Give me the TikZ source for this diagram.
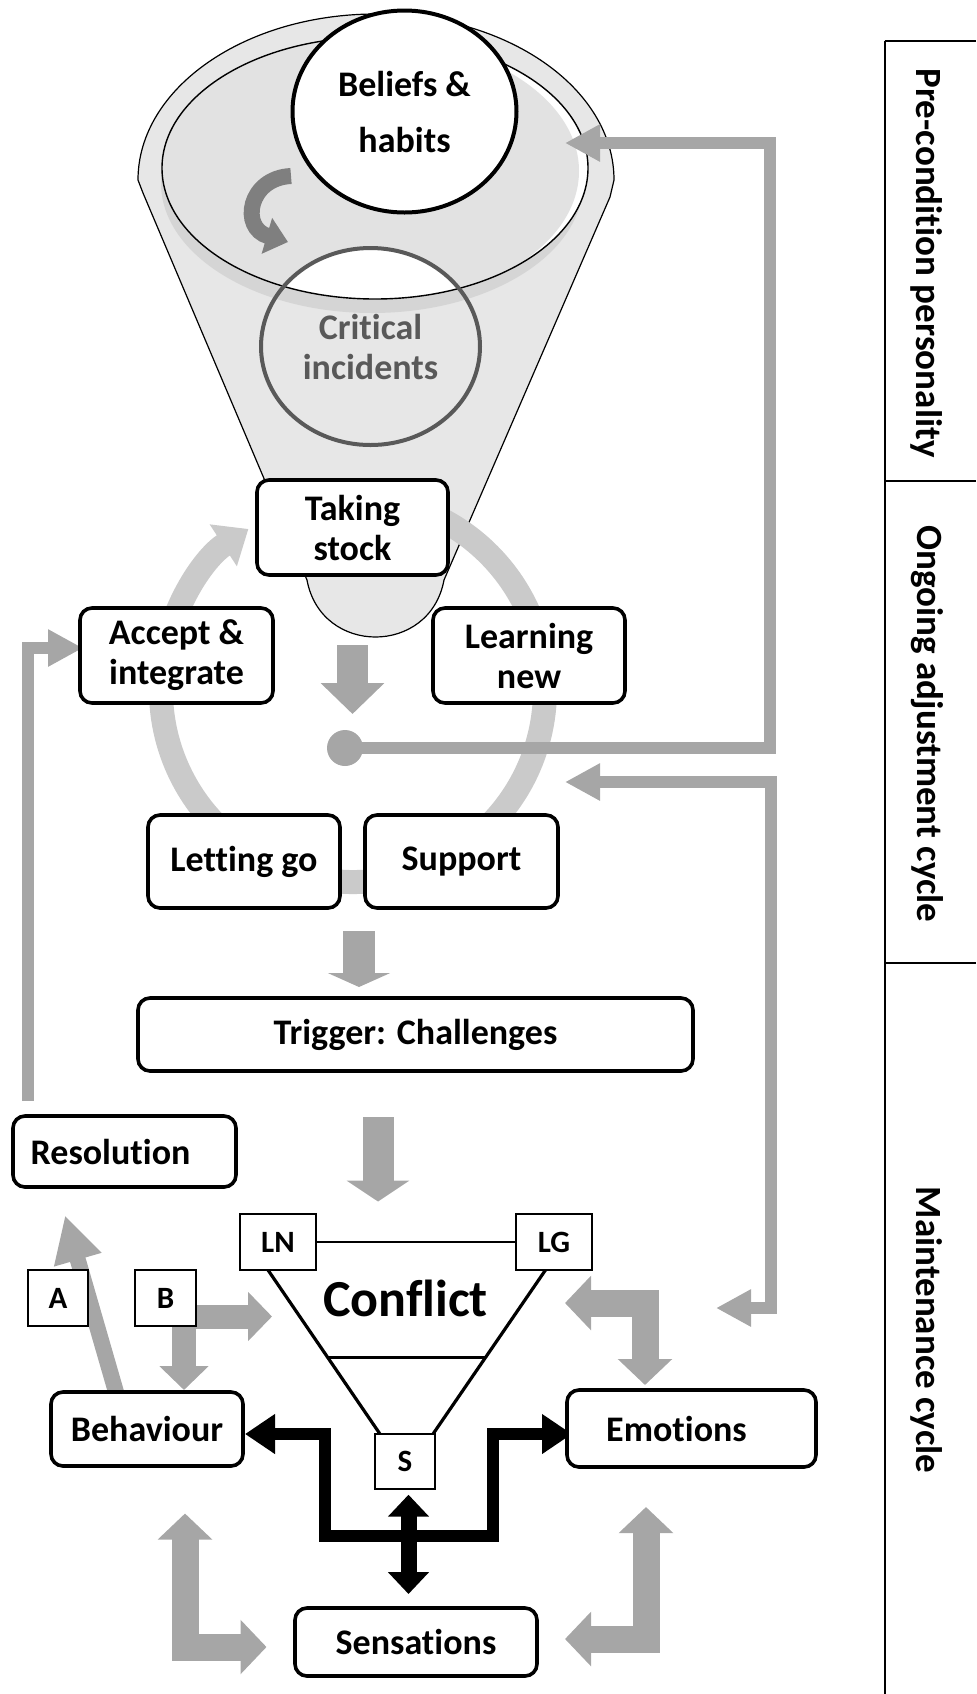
\documentclass[tikz,border=0pt]{standalone}
\usepackage{fontspec}
\setmainfont{Carlito}[Ligatures=NoCommon]
\usetikzlibrary{arrows.meta,shapes.geometric}
\definecolor{funnelgrey}{HTML}{E7E7E7}
\definecolor{shadowgrey}{HTML}{D5D5D5}
\definecolor{innergrey}{HTML}{E2E2E2}
\definecolor{ringgrey}{HTML}{CACACA}
\definecolor{conngrey}{HTML}{A6A6A6}
\definecolor{darkgrey}{HTML}{595959}
\definecolor{curlgrey}{HTML}{7F7F7F}
\begin{document}
\begin{tikzpicture}[x=0.5pt,y=-0.5pt,
  every node/.style={font=\fontsize{18}{20}\selectfont\bfseries},
  rbox/.style={draw=black, line width=1.8pt, rounded corners=6pt, fill=white, align=center, inner sep=0pt},
  sbox/.style={draw=black, line width=1pt, fill=white, inner sep=0pt, font=\fontsize{15.5}{16}\selectfont\bfseries},
  gconn/.style={draw=conngrey, line width=6pt, line join=miter},
  gtip/.tip={Triangle[width=17.5pt,length=17.5pt]},
  btip/.tip={Triangle[width=26.5pt,length=13pt]},
  ktip/.tip={Triangle[width=19pt,length=15pt]},
  sidelabel/.style={rotate=-90, font=\fontsize{18.5}{20}\selectfont\bfseries}
]
\useasboundingbox (0,0) rectangle (976,1694);

% ---------- funnel ----------
\filldraw[fill=funnelgrey, draw=black, line width=0.6pt]
  (307,580) -- (143,193) -- (138,180)
  arc[start angle=180, end angle=360, x radius=238, y radius=166]
  -- (610,197) -- (444,580) .. controls (430,656) and (321,656) .. (307,580) -- cycle;
\fill[shadowgrey] (372,183) ellipse[x radius=211, y radius=130];
\begin{scope}
  \clip (375,168) ellipse[x radius=213, y radius=131];
  \fill[white] (375,168) ellipse[x radius=213, y radius=131];
  \fill[innergrey] (368,171) ellipse[x radius=211, y radius=133];
  \fill[white] (370.5,346.5) ellipse[x radius=109.5, y radius=98.5];
\end{scope}
\draw[line width=0.7pt] (375,168) ellipse[x radius=213, y radius=131];

\node[ellipse, draw=darkgrey, line width=2pt, minimum width=109.5pt, minimum height=98.5pt,
  inner sep=0pt, align=center, text=darkgrey] (crit) at (370.5,346.5) {Critical\\incidents};
\node[ellipse, draw=black, line width=2pt, fill=white, minimum width=112pt, minimum height=101pt,
  inner sep=0pt, align=center] (beliefs) at (404.5,111.5) {Beliefs \&\\[8pt]habits};

\draw[curlgrey, line width=8pt, -{Triangle[width=18pt,length=11pt]}]
  (291,176) .. controls (248,178) and (240,228) .. (288,242);

% ---------- cycle ring ----------
\coordinate (ringc) at (353,690);
\draw[ringgrey, line width=12pt, -{Triangle[width=24pt,length=15pt]}]
  (ringc) ++(-80:192) arc[start angle=-80, end angle=237, radius=192];

% ---------- coordinates for connectors ----------
\coordinate (beliefin) at (565,143);
\coordinate (adjin) at (565,782);
\coordinate (conflin) at (716,1308);
\coordinate (resout) at (27.5,1101);
\coordinate (accin) at (83,648);

% ---------- grey connectors ----------
\node[circle, fill=conngrey, minimum size=18pt, inner sep=0pt] (dot) at (345,748) {};
\draw[gconn, -gtip] (dot.center) -- (770,748) -- (770,143) -- (beliefin);
\draw[gconn, gtip-gtip] (adjin) -- (771,782) -- (771,1308) -- (conflin);
\draw[gconn, -gtip] (resout) -- (27.5,648) -- (accin);

% block arrows down
\coordinate (f1) at (352.5,645); \coordinate (f2) at (352.5,714);
\coordinate (r1) at (359,931);   \coordinate (r2) at (359,987);
\coordinate (t1) at (378,1117);  \coordinate (t2) at (378,1201.5);
\draw[conngrey, line width=15.5pt, -{Triangle[width=31pt,length=15.5pt]}] (f1) -- (f2);
\draw[conngrey, line width=16pt, -{Triangle[width=31pt,length=7pt]}] (r1) -- (r2);
\draw[conngrey, line width=15.5pt, -{Triangle[width=31pt,length=10.5pt]}] (t1) -- (t2);

% A arrow
\coordinate (a1) at (116,1392); \coordinate (a2) at (65,1215.5);
\draw[conngrey, line width=8pt, -{Triangle[width=23pt,length=23pt]}] (a1) -- (a2);
% B elbow
\coordinate (b1) at (272,1316.5); \coordinate (b2) at (184,1390);
\draw[conngrey, line width=12pt, line join=miter, {Triangle[width=24pt,length=12pt]}-{Triangle[width=24pt,length=12pt]}]
  (b1) -- (184,1316.5) -- (b2);
% elbows
\coordinate (e1) at (565,1303); \coordinate (e2) at (645,1385);
\draw[conngrey, line width=13.5pt, line join=miter, btip-btip] (e1) -- (645,1303) -- (e2);
\coordinate (s1) at (185,1513.5); \coordinate (s2) at (266.5,1647);
\draw[conngrey, line width=13.5pt, line join=miter, btip-btip] (s1) -- (185,1647) -- (s2);
\coordinate (m1) at (646,1507); \coordinate (m2) at (565,1639);
\draw[conngrey, line width=13.5pt, line join=miter, btip-btip] (m1) -- (646,1639) -- (m2);

% black arrows
\coordinate (k1) at (245,1434); \coordinate (k2) at (572,1434);
\draw[black, line width=6pt, line join=miter, ktip-ktip]
  (k1) -- (325,1434) -- (325,1536) -- (493,1536) -- (493,1434) -- (k2);
\coordinate (v1) at (408.5,1494.7); \coordinate (v2) at (408.5,1594);
\draw[black, line width=8pt, {Triangle[width=20pt,length=11pt]}-{Triangle[width=20pt,length=11pt]}] (v1) -- (v2);

% ---------- boxes ----------
\node[rbox, minimum width=95.5pt, minimum height=47.5pt] (stock) at (352.5,527.5) {Taking\\stock};
\node[rbox, minimum width=96pt, minimum height=47.5pt] (learn) at (529,655.5) {Learning\\new};
\node[rbox, minimum width=96.5pt, minimum height=47.5pt] (accept) at (176.5,655.5) {Accept \&\\integrate};
\node[rbox, minimum width=96pt, minimum height=46.5pt] (letgo) at (244,861.5) {Letting go};
\node[rbox, minimum width=96.5pt, minimum height=46.5pt] (support) at (461.5,861.5) {Support};
\node[rbox, minimum width=277.5pt, minimum height=36.5pt] (trigger) at (415.5,1034.5) {Trigger: Challenges};
\node[rbox, minimum width=111.5pt, minimum height=35.5pt] (resol) at (124.5,1151.5) {Resolution\hspace*{14pt}};
\node[rbox, minimum width=96pt, minimum height=37pt] (behav) at (147,1429) {Behaviour};
\node[rbox, minimum width=124.5pt, minimum height=38.5pt] (emo) at (691.5,1428.5) {Emotions\hspace*{15pt}};
\node[rbox, minimum width=121pt, minimum height=34pt] (sens) at (416,1642) {Sensations};

% ---------- conflict ----------
\node[sbox, minimum width=30pt, minimum height=28pt] (A) at (58,1298) {A};
\node[sbox, minimum width=30.5pt, minimum height=28pt] (B) at (165.5,1298) {B};
\node[sbox, minimum width=38pt, minimum height=28pt] (LN) at (278,1242) {LN};
\node[sbox, minimum width=38pt, minimum height=28pt] (LG) at (554,1242) {LG};
\node[sbox, minimum width=30pt, minimum height=27.5pt] (S) at (405,1461.5) {S};
\draw[line width=1pt] (LN) -- (LG);
\draw[line width=1.6pt] (268,1270) -- (380,1434);
\draw[line width=1.6pt] (545.5,1270) -- (433,1434);
\draw[line width=1.6pt] (327.5,1357.6) -- (485,1357.6);
\node[font=\fontsize{26}{28}\selectfont\bfseries] (conflict) at (405.5,1298) {Conflict};

% ---------- side panel ----------
\draw[line width=1pt] (884.5,41) -- (884.5,1694);
\draw[line width=1pt] (884.5,41) -- (976,41);
\draw[line width=1pt] (884.5,481) -- (976,481);
\draw[line width=1pt] (884.5,963) -- (976,963);
\node[sidelabel] (pre) at (927,263) {Pre-condition personality};
\node[sidelabel] (ongo) at (927,724) {Ongoing adjustment cycle};
\node[sidelabel] (maint) at (927,1330) {Maintenance cycle};
\end{tikzpicture}
\end{document}
